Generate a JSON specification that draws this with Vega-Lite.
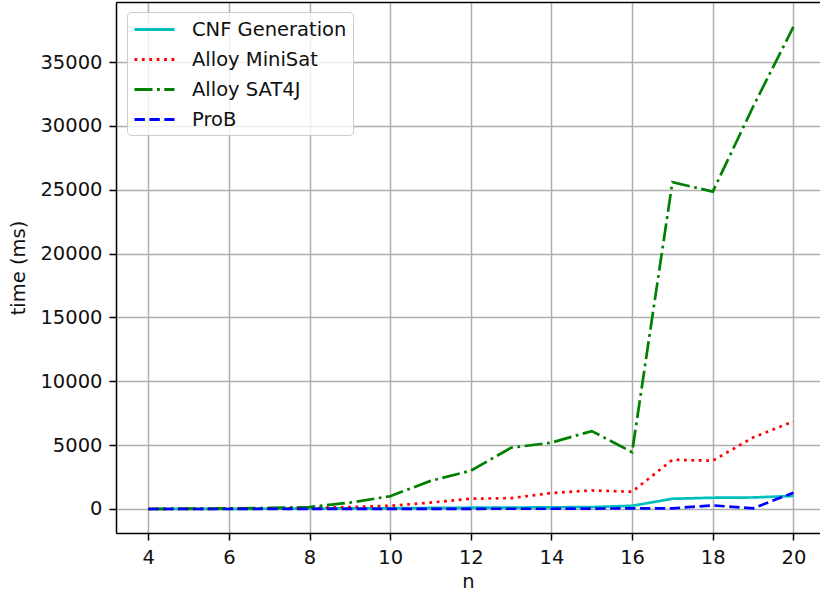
{
  "$schema": "https://vega.github.io/schema/vega-lite/v6.json",
  "width": 704,
  "height": 531,
  "autosize": {"type": "none"},
  "padding": {"left": 116, "top": 2, "right": 0, "bottom": 61},
  "background": "white",
  "config": {
    "font": "DejaVu Sans",
    "view": {"stroke": null},
    "axis": {
      "domainColor": "black", "domainWidth": 1.5,
      "tickColor": "black", "tickWidth": 1.5, "tickSize": 7,
      "labelFont": "DejaVu Sans", "labelFontSize": 19.5, "labelColor": "#111",
      "titleFont": "DejaVu Sans", "titleFontSize": 19.5, "titleColor": "#111", "titleFontWeight": "normal",
      "gridColor": "#b0b0b0", "gridWidth": 1.5
    },
    "legend": {
      "orient": "none", "legendX": 11, "legendY": 10,
      "symbolType": "M-2,0L2,0", "symbolSize": 400, "symbolStrokeWidth": 2.8, "symbolOffset": 10,
      "labelFont": "DejaVu Sans", "labelFontSize": 19.5, "labelColor": "#111", "labelOffset": 26,
      "rowPadding": 9, "padding": 6,
      "strokeColor": "#cccccc", "fillColor": "rgba(255,255,255,0.8)", "cornerRadius": 4
    }
  },
  "data": {"values": [
    {"n": 4, "series": "CNF Generation", "t": 0},
    {"n": 5, "series": "CNF Generation", "t": 5},
    {"n": 6, "series": "CNF Generation", "t": 10},
    {"n": 7, "series": "CNF Generation", "t": 20},
    {"n": 8, "series": "CNF Generation", "t": 30},
    {"n": 9, "series": "CNF Generation", "t": 50},
    {"n": 10, "series": "CNF Generation", "t": 60},
    {"n": 11, "series": "CNF Generation", "t": 80},
    {"n": 12, "series": "CNF Generation", "t": 100},
    {"n": 13, "series": "CNF Generation", "t": 110},
    {"n": 14, "series": "CNF Generation", "t": 130},
    {"n": 15, "series": "CNF Generation", "t": 150},
    {"n": 16, "series": "CNF Generation", "t": 250},
    {"n": 17, "series": "CNF Generation", "t": 800},
    {"n": 18, "series": "CNF Generation", "t": 880},
    {"n": 19, "series": "CNF Generation", "t": 900},
    {"n": 20, "series": "CNF Generation", "t": 1020},
    {"n": 4, "series": "Alloy MiniSat", "t": 0},
    {"n": 5, "series": "Alloy MiniSat", "t": 10},
    {"n": 6, "series": "Alloy MiniSat", "t": 20},
    {"n": 7, "series": "Alloy MiniSat", "t": 40},
    {"n": 8, "series": "Alloy MiniSat", "t": 80},
    {"n": 9, "series": "Alloy MiniSat", "t": 150},
    {"n": 10, "series": "Alloy MiniSat", "t": 250},
    {"n": 11, "series": "Alloy MiniSat", "t": 500},
    {"n": 12, "series": "Alloy MiniSat", "t": 800},
    {"n": 13, "series": "Alloy MiniSat", "t": 850},
    {"n": 14, "series": "Alloy MiniSat", "t": 1250},
    {"n": 15, "series": "Alloy MiniSat", "t": 1450},
    {"n": 16, "series": "Alloy MiniSat", "t": 1350},
    {"n": 17, "series": "Alloy MiniSat", "t": 3850},
    {"n": 18, "series": "Alloy MiniSat", "t": 3780},
    {"n": 19, "series": "Alloy MiniSat", "t": 5600},
    {"n": 20, "series": "Alloy MiniSat", "t": 6850},
    {"n": 4, "series": "Alloy SAT4J", "t": 0},
    {"n": 5, "series": "Alloy SAT4J", "t": 30},
    {"n": 6, "series": "Alloy SAT4J", "t": 50},
    {"n": 7, "series": "Alloy SAT4J", "t": 80},
    {"n": 8, "series": "Alloy SAT4J", "t": 150},
    {"n": 9, "series": "Alloy SAT4J", "t": 500},
    {"n": 10, "series": "Alloy SAT4J", "t": 1000},
    {"n": 11, "series": "Alloy SAT4J", "t": 2200},
    {"n": 12, "series": "Alloy SAT4J", "t": 3000},
    {"n": 13, "series": "Alloy SAT4J", "t": 4800},
    {"n": 14, "series": "Alloy SAT4J", "t": 5200},
    {"n": 15, "series": "Alloy SAT4J", "t": 6100},
    {"n": 16, "series": "Alloy SAT4J", "t": 4450},
    {"n": 17, "series": "Alloy SAT4J", "t": 25600},
    {"n": 18, "series": "Alloy SAT4J", "t": 24850},
    {"n": 19, "series": "Alloy SAT4J", "t": 31500},
    {"n": 20, "series": "Alloy SAT4J", "t": 37750},
    {"n": 4, "series": "ProB", "t": 0},
    {"n": 5, "series": "ProB", "t": 0},
    {"n": 6, "series": "ProB", "t": 0},
    {"n": 7, "series": "ProB", "t": 5},
    {"n": 8, "series": "ProB", "t": 5},
    {"n": 9, "series": "ProB", "t": 10},
    {"n": 10, "series": "ProB", "t": 10},
    {"n": 11, "series": "ProB", "t": 15},
    {"n": 12, "series": "ProB", "t": 15},
    {"n": 13, "series": "ProB", "t": 20},
    {"n": 14, "series": "ProB", "t": 20},
    {"n": 15, "series": "ProB", "t": 30},
    {"n": 16, "series": "ProB", "t": 50},
    {"n": 17, "series": "ProB", "t": 50},
    {"n": 18, "series": "ProB", "t": 280},
    {"n": 19, "series": "ProB", "t": 50},
    {"n": 20, "series": "ProB", "t": 1280}
  ]},
  "layer": [
    {
      "mark": {"type": "line", "strokeWidth": 2.7, "clip": true},
      "encoding": {
        "x": {"field": "n", "type": "quantitative",
              "scale": {"domain": [3.2, 20.66], "nice": false, "zero": false},
              "axis": {"orient": "bottom", "values": [4, 6, 8, 10, 12, 14, 16, 18, 20], "title": "n", "grid": true, "labelPadding": 8, "titlePadding": 6}},
        "y": {"field": "t", "type": "quantitative",
              "scale": {"domain": [-1881, 39702], "nice": false, "zero": false},
              "axis": {"values": [0, 5000, 10000, 15000, 20000, 25000, 30000, 35000], "format": "d", "title": "time (ms)", "grid": true, "labelPadding": 7, "titlePadding": 11}},
        "color": {"field": "series", "type": "nominal",
                  "scale": {"domain": ["CNF Generation", "Alloy MiniSat", "Alloy SAT4J", "ProB"], "range": ["#00bfbf", "#ff0000", "#008000", "#0000ff"]},
                  "legend": {"title": null}},
        "strokeDash": {"field": "series", "type": "nominal",
                  "scale": {"domain": ["CNF Generation", "Alloy MiniSat", "Alloy SAT4J", "ProB"], "range": [[1, 0], [2.8, 4.6], [18, 4.5, 2.8, 4.5], [10.4, 4.5]]},
                  "legend": {"title": null}}
      }
    },
    {
      "mark": {"type": "line", "opacity": 0},
      "encoding": {
        "x": {"field": "n", "type": "quantitative",
              "scale": {"domain": [3.2, 20.66], "nice": false, "zero": false},
              "axis": {"orient": "top", "labels": false, "ticks": false, "grid": false, "title": null, "domain": true}},
        "y": {"field": "t", "type": "quantitative"}
      }
    }
  ],
  "resolve": {"axis": {"x": "independent"}}
}
